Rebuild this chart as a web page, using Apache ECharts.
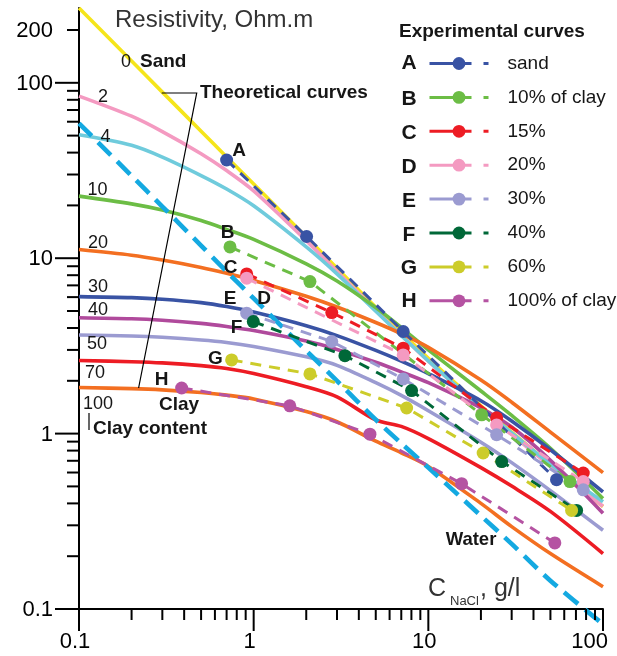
<!DOCTYPE html>
<html><head><meta charset="utf-8">
<script src="https://cdn.jsdelivr.net/npm/echarts@6/dist/echarts.min.js"></script>
<style>html,body{margin:0;padding:0;background:#fff}#c{width:617px;height:656px}</style>
</head><body><div id="c"></div>
<script>
const FONT = '"Liberation Sans", Arial, Helvetica, sans-serif';
const INK = '#161616';

// NaCl concentration (g/l) where the theoretical curves are read
const concentration = [0.1, 0.2, 0.3, 0.5, 0.7, 1, 2, 3, 5, 7, 10, 20, 30, 50, 100];

// Theoretical curves, resistivity in Ohm.m, by clay content (%)
const clay0   = [267, 133, 88.5, 53, 37.8, 26.5, 13.2, 8.77, 5.25, 3.78, 2.69, 1.44, 1.02, 0.667, 0.383];
const clay2   = [84, 64.5, 52.7, 39.4, 31.6, 24.2, 12.6, 8.4, 5.06, 3.64, 2.59, 1.40, 0.99, 0.652, 0.385];
const clay4   = [50.5, 44.0, 37.7, 29.6, 24.8, 19.9, 11.6, 8.14, 4.98, 3.62, 2.60, 1.41, 1.008, 0.67, 0.409];
const clay10  = [22.6, 20.4, 18.8, 16.4, 14.6, 12.8, 9.29, 7.41, 5.23, 4.02, 3.0, 1.75, 1.27, 0.825, 0.427];
const clay20  = [11.2, 10.4, 9.76, 8.86, 8.2, 7.47, 6.07, 5.27, 4.30, 3.71, 3.10, 2.02, 1.51, 1.02, 0.599];
const clay30  = [6.04, 5.96, 5.84, 5.58, 5.30, 4.93, 4.12, 3.62, 2.98, 2.59, 2.20, 1.54, 1.18, 0.809, 0.465];
const clay40  = [4.58, 4.52, 4.43, 4.25, 4.08, 3.87, 3.37, 3.02, 2.55, 2.25, 1.95, 1.40, 1.09, 0.705, 0.352];
const clay50  = [3.65, 3.60, 3.54, 3.42, 3.31, 3.14, 2.74, 2.45, 1.95, 1.65, 1.35, 0.893, 0.683, 0.473, 0.281];
const clay70  = [2.61, 2.57, 2.53, 2.44, 2.35, 2.20, 1.85, 1.62, 1.197, 1.10, 0.937, 0.64, 0.502, 0.36, 0.207];
const clay100 = [1.83, 1.805, 1.776, 1.714, 1.657, 1.577, 1.335, 1.168, 0.905, 0.777, 0.65, 0.40, 0.295, 0.207, 0.134];
const water   = [58.8, 29.5, 19.7, 11.8, 8.4, 5.9, 2.97, 2.0, 1.2, 0.88, 0.64, 0.34, 0.235, 0.145, 0.082];

// Experimental curves: [concentration g/l, resistivity Ohm.m]
const expA = [[0.70, 36.3], [2.01, 13.3], [7.18, 3.82], [54.2, 0.546]];
const expB = [[0.732, 11.6], [2.10, 7.36], [20.2, 1.28], [64.7, 0.533]];
const expC = [[0.912, 8.14], [2.80, 4.9], [7.18, 3.07], [24.6, 1.23], [77.1, 0.596]];
const expD = [[0.912, 7.69], [7.18, 2.81], [24.6, 1.12], [77.1, 0.533]];
const expE = [[0.912, 4.86], [2.80, 3.35], [7.18, 2.05], [24.6, 0.985], [77.1, 0.478]];
const expF = [[0.995, 4.35], [3.33, 2.78], [8.02, 1.76], [26.3, 0.693], [70.6, 0.365]];
const expG = [[0.748, 2.63], [2.10, 2.19], [7.51, 1.40], [20.6, 0.775], [66.1, 0.365]];
const expH = [[0.387, 1.82], [1.61, 1.44], [4.63, 0.993], [15.5, 0.518], [53.0, 0.238]];

const expLetters = ['A', 'B', 'C', 'D', 'E', 'F', 'G', 'H'];
const expNames = ['sand', '10% of clay', '15%', '20%', '30%', '40%', '60%', '100% of clay'];

// Axis ticks
const xMajorTicks = [0.1, 1, 10, 100];
const xMinorTicks = [0.2, 0.3, 0.4, 0.5, 0.6, 0.7, 0.8, 0.9, 2, 3, 4, 5, 6, 7, 8, 9, 20, 30, 40, 50, 60, 70, 80, 90];
const yMajorTicks = [0.1, 1, 10, 100];
const yMinorTicks = [0.2, 0.3, 0.4, 0.5, 0.6, 0.7, 0.8, 0.9, 2, 3, 4, 5, 6, 7, 8, 9, 20, 30, 40, 50, 60, 70, 80, 90, 200];
const xTickValues = [0.1, 1, 10, 100];
const xTickLabels = ['0.1', '1', '10', '100'];
const yTickValues = [0.1, 1, 10, 100, 200];
const yTickLabels = ['0.1', '1', '10', '100', '200'];

const X_MIN = 0.1, X_MAX = 100, Y_MIN = 0.1, Y_MAX = 267;

const chart = echarts.init(document.getElementById('c'), null, {renderer: 'canvas'});

function theo(name, vals, color, z) {
  return {
    name, type: 'line', data: concentration.map((c, i) => [c, vals[i]]),
    smooth: 0.3, symbol: 'none', silent: true, z: z || 2,
    lineStyle: {color, width: 3.6}
  };
}
function expSeries(name, pts, color) {
  return {
    name, type: 'line', data: pts, symbol: 'circle', symbolSize: 13, silent: true, z: 4,
    itemStyle: {color}, lineStyle: {color, width: 3, type: [11, 8]}
  };
}
function tickSeries(values, axis, len) {
  return {
    type: 'custom', coordinateSystem: 'cartesian2d', clip: false, silent: true, z: 10,
    data: values.map(v => axis === 'x' ? [v, Y_MIN] : [X_MIN, v]),
    renderItem: (params, api) => {
      const p = api.coord([api.value(0), api.value(1)]);
      const shape = axis === 'x'
        ? {x1: p[0], y1: p[1], x2: p[0], y2: p[1] + len}
        : {x1: p[0] - len, y1: p[1], x2: p[0], y2: p[1]};
      return {type: 'line', shape, style: {stroke: '#000', lineWidth: 2}};
    }
  };
}
function labelSeries(values, labels, axis) {
  return {
    type: 'custom', coordinateSystem: 'cartesian2d', clip: false, silent: true, z: 10,
    data: values.map(v => axis === 'x' ? [v, Y_MIN] : [X_MIN, v]),
    renderItem: (params, api) => {
      const i = params.dataIndex;
      const p = api.coord([api.value(0), api.value(1)]);
      let x, y, align;
      if (axis === 'x') {
        const last = i === values.length - 1;
        x = last ? p[0] + 5 : p[0] - 4; y = p[1] + 33; align = last ? 'right' : 'center';
      } else {
        x = p[0] - 26; y = p[1] + 1; align = 'right';
      }
      return {type: 'text', x, y, style: {text: labels[i], fontSize: 22, fontFamily: FONT, fill: '#000', align, verticalAlign: 'middle'}};
    }
  };
}

function txt(text, x, y, size, opts) {
  opts = opts || {};
  return {type: 'text', x, y, z: 20, silent: true, style: {
    text, fontSize: size, fontFamily: FONT, fontWeight: opts.bold ? 'bold' : 'normal',
    fill: opts.fill || INK, align: opts.align || 'left', verticalAlign: 'middle'}};
}

const expColors = ['#3953a4', '#6cbd45', '#ed1c24', '#f49ac1', '#9b9bd1', '#006838', '#cccc2a', '#b553a2'];
const expData = [expA, expB, expC, expD, expE, expF, expG, expH];
const legendRowY = [63, 99, 133, 167, 201, 235, 268, 301];

const graphics = [
  txt('Resistivity, Ohm.m', 115, 20.5, 24, {fill: '#333'}),
  txt('C', 428, 589, 25, {fill: '#333'}),
  txt('NaCl', 450, 601, 13, {fill: '#333'}),
  txt(', g/l', 480, 589, 25, {fill: '#333'}),
  txt('Experimental curves', 399, 32, 19, {bold: true}),
  txt('0', 121, 62.5, 18), txt('Sand', 140, 62, 19, {bold: true}),
  txt('2', 103, 97, 18, {align: 'center'}),
  txt('4', 105.5, 137, 18, {align: 'center'}),
  txt('10', 97.5, 190, 18, {align: 'center'}),
  txt('20', 98, 243, 18, {align: 'center'}),
  txt('30', 98, 287, 18, {align: 'center'}),
  txt('40', 98, 310, 18, {align: 'center'}),
  txt('50', 97, 344, 18, {align: 'center'}),
  txt('70', 95, 373, 18, {align: 'center'}),
  txt('100', 98, 404, 18, {align: 'center'}),
  txt('Theoretical curves', 200, 93, 19, {bold: true}),
  txt('Clay', 179, 404.5, 19, {bold: true, align: 'center'}),
  txt('Clay content', 93, 428.5, 19, {bold: true}),
  txt('Water', 471, 540, 18.5, {bold: true, align: 'center'}),
  txt('A', 239, 151, 19, {bold: true, align: 'center'}),
  txt('B', 227.5, 232.5, 19, {bold: true, align: 'center'}),
  txt('C', 230.5, 268, 19, {bold: true, align: 'center'}),
  txt('E', 230, 298.5, 19, {bold: true, align: 'center'}),
  txt('D', 264, 298.5, 19, {bold: true, align: 'center'}),
  txt('F', 236.5, 327.5, 19, {bold: true, align: 'center'}),
  txt('G', 215.5, 358.5, 19, {bold: true, align: 'center'}),
  txt('H', 161.5, 380, 19, {bold: true, align: 'center'}),
  {type: 'polyline', z: 20, silent: true, shape: {points: [[161.7, 93], [196.7, 93], [138.6, 388]]}, style: {stroke: '#000', lineWidth: 1.2, fill: null}},
  {type: 'line', z: 20, silent: true, shape: {x1: 89, y1: 413, x2: 89, y2: 430}, style: {stroke: '#000', lineWidth: 1.2}}
];
expLetters.forEach((l, i) => graphics.push(txt(l, 409, legendRowY[i], 21, {bold: true, align: 'center'})));

const series = [
  theo('c0', clay0, '#f5e51b'),
  theo('c2', clay2, '#f49ac1'),
  theo('c4', clay4, '#6fcbdc'),
  theo('c10', clay10, '#6cbd45'),
  theo('c20', clay20, '#f36f21'),
  theo('c30', clay30, '#3953a4'),
  theo('c40', clay40, '#b04a9c'),
  theo('c50', clay50, '#9b9bd1'),
  theo('c70', clay70, '#ed1c24'),
  theo('c100', clay100, '#f36f21'),
  Object.assign(theo('water', water, '#14a9e1', 3), {clip: false, lineStyle: {color: '#14a9e1', width: 4.6, type: [18, 9]}}),
];
expNames.forEach((n, i) => series.push(expSeries(n, expData[i], expColors[i])));
series.push(tickSeries(xMajorTicks, 'x', 22), tickSeries(xMinorTicks, 'x', 11),
            tickSeries(yMajorTicks, 'y', 24), tickSeries(yMinorTicks, 'y', 12),
            labelSeries(xTickValues, xTickLabels, 'x'), labelSeries(yTickValues, yTickLabels, 'y'));

chart.setOption({
  animation: false,
  backgroundColor: '#fff',
  textStyle: {fontFamily: FONT},
  grid: {left: 79, right: 14, top: 8, bottom: 47, containLabel: false},
  xAxis: {type: 'log', logBase: 10, min: X_MIN, max: X_MAX,
    axisLine: {show: true, onZero: false, lineStyle: {color: '#000', width: 2}},
    axisTick: {show: false}, axisLabel: {show: false}, splitLine: {show: false}},
  yAxis: {type: 'log', logBase: 10, min: Y_MIN, max: Y_MAX,
    axisLine: {show: true, onZero: false, lineStyle: {color: '#000', width: 2}},
    axisTick: {show: false}, axisLabel: {show: false}, splitLine: {show: false}},
  legend: {
    data: expNames, orient: 'vertical', left: 428, top: 54, padding: 0,
    itemWidth: 59, itemHeight: 16, itemGap: 14.9, selectedMode: false,
    lineStyle: {type: [42, 12, 5, 40], width: 3},
    formatter: n => '{t|' + n + '}',
    textStyle: {color: INK, rich: {t: {fontSize: 19, fontFamily: FONT, lineHeight: 20, padding: [0, 0, 0, 14], color: INK}}}
  },
  graphic: graphics,
  series
});
</script></body></html>
